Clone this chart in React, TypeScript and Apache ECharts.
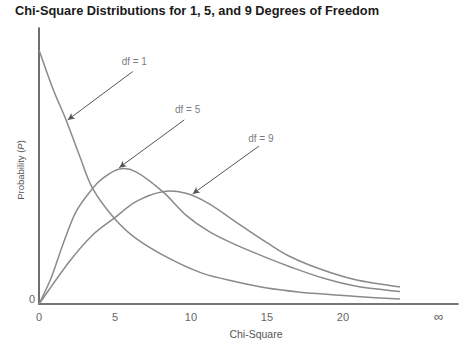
import React, { useEffect, useRef } from "react";
import * as echarts from "echarts";

// Chi-square value (x) vs probability density (y, relative units)
const df1Values: number[][] = [
  [0, 0.92], [0.9, 0.782], [1.78, 0.667], [2.65, 0.54], [3.53, 0.419], [4.95, 0.311],
  [6.38, 0.238], [8.57, 0.165], [10.77, 0.111], [12.96, 0.081], [15.0, 0.058],
  [17.17, 0.043], [18.68, 0.036], [20.9, 0.027], [23.75, 0.018],
];
const df5Values: number[][] = [
  [0, 0], [0.79, 0.093], [1.56, 0.214], [2.43, 0.334], [3.53, 0.419], [4.19, 0.455],
  [5.28, 0.489], [6.38, 0.479], [8.14, 0.407], [9.67, 0.322], [11.2, 0.262], [12.96, 0.214],
  [15.0, 0.167], [16.51, 0.135], [18.68, 0.094], [20.9, 0.064], [23.75, 0.045],
];
const df9Values: number[][] = [
  [0, 0], [1.99, 0.153], [3.53, 0.25], [4.95, 0.311], [6.38, 0.371], [8.14, 0.407],
  [9.67, 0.401], [11.2, 0.363], [12.96, 0.297], [15.0, 0.222], [16.51, 0.172], [18.68, 0.123],
  [20.9, 0.087], [23.75, 0.062],
];

const seriesNames = ["df = 1", "df = 5", "df = 9"];
const xTickValues = [0, 5, 10, 15, 20];
const infinityPosition = 26.3;
const yTickValues = [0];

// annotation arrows: [startX, startY, endX, endY]
const arrowCoords: number[][] = [
  [6.16, 0.842, 1.89, 0.667],
  [9.56, 0.667, 5.28, 0.494],
  [14.47, 0.572, 10.11, 0.399],
];
// annotation label anchor points [x, y]
const labelCoords: number[][] = [
  [6.27, 0.878],
  [9.78, 0.703],
  [14.6, 0.601],
];

const titleText = "Chi-Square Distributions for 1, 5, and 9 Degrees of Freedom";
const xAxisTitle = "Chi-Square";

// Catmull-Rom spline through pixel points, as SVG path data
function splinePath(pts: number[][]): string {
  if (pts.length < 2) return "";
  let d = `M${pts[0][0]},${pts[0][1]}`;
  for (let i = 0; i < pts.length - 1; i++) {
    const p0 = pts[Math.max(0, i - 1)];
    const p1 = pts[i];
    const p2 = pts[i + 1];
    const p3 = pts[Math.min(pts.length - 1, i + 2)];
    const c1x = p1[0] + (p2[0] - p0[0]) / 6;
    const c1y = p1[1] + (p2[1] - p0[1]) / 6;
    const c2x = p2[0] - (p3[0] - p1[0]) / 6;
    const c2y = p2[1] - (p3[1] - p1[1]) / 6;
    d += ` C${c1x},${c1y} ${c2x},${c2y} ${p2[0]},${p2[1]}`;
  }
  return d;
}

export default function App() {
  const ref = useRef<HTMLDivElement>(null);

  useEffect(() => {
    if (!ref.current) return;
    const chart = echarts.init(ref.current, null, { renderer: "svg" });
    const curveColor = "#8a8a8a";
    const axisColor = "#4a4a4a";
    const font = "'Liberation Sans', Arial, sans-serif";

    const curves = [df1Values, df5Values, df9Values].map((d, i) => ({
      name: seriesNames[i],
      type: "custom",
      data: d,
      silent: true,
      encode: { x: 0, y: 1 },
      renderItem: (params: any, api: any) => {
        if (params.dataIndex !== 0) return null;
        const pts = d.map((p) => api.coord(p));
        return {
          type: "path",
          shape: { pathData: splinePath(pts) },
          style: { stroke: curveColor, lineWidth: 1.5, fill: "none" },
        };
      },
    }));

    const option: any = {
      animation: false,
      backgroundColor: "#fff",
      title: {
        text: titleText,
        left: 15,
        top: 4,
        padding: 0,
        textStyle: { fontFamily: font, fontWeight: "bold", fontSize: 12.8, color: "#1a1a1a" },
      },
      grid: { left: 39, right: 5, top: 28, bottom: 38 },
      xAxis: {
        type: "value",
        min: 0,
        max: 27.57,
        axisLine: { show: true, lineStyle: { color: axisColor, width: 1.6 } },
        axisTick: { show: false },
        splitLine: { show: false },
        axisLabel: {
          customValues: [...xTickValues, infinityPosition],
          margin: 7,
          color: "#666",
          fontFamily: font,
          fontSize: 11,
          formatter: (v: number) => (v > 22 ? "{inf|∞}" : String(v)),
          rich: { inf: { fontSize: 13, color: "#555", fontFamily: font, lineHeight: 11 } },
        },
      },
      yAxis: {
        type: "value",
        min: 0,
        max: 1,
        axisLine: { show: true, lineStyle: { color: axisColor, width: 1.6 } },
        axisTick: { show: false },
        splitLine: { show: false },
        axisLabel: {
          customValues: yTickValues,
          margin: 4,
          color: "#666",
          fontFamily: font,
          fontSize: 11,
          verticalAlign: "bottom",
          lineHeight: 10,
        },
      },
      graphic: [
        {
          type: "text",
          x: 256,
          y: 334,
          style: {
            text: xAxisTitle,
            fill: "#555",
            font: `10.5px ${font}`,
            align: "center",
            verticalAlign: "middle",
          },
        },
        {
          type: "text",
          x: 20,
          y: 170,
          rotation: Math.PI / 2,
          style: {
            text: "Probability ({i|P})",
            fill: "#555",
            font: `9.5px ${font}`,
            align: "center",
            verticalAlign: "middle",
            rich: { i: { fontStyle: "italic", fontSize: 9.5, fill: "#555", fontFamily: font } },
          },
        },
      ],
      series: [
        ...curves,
        {
          name: "arrows",
          type: "line",
          data: [],
          silent: true,
          markLine: {
            silent: true,
            symbol: ["none", "arrow"],
            symbolSize: [5, 7],
            label: { show: false },
            lineStyle: { color: "#555", width: 1, type: "solid" },
            data: arrowCoords.map((a) => [{ coord: [a[0], a[1]] }, { coord: [a[2], a[3]] }]),
          },
        },
        {
          name: "labels",
          type: "scatter",
          symbolSize: 0,
          silent: true,
          data: labelCoords.map((c, i) => ({ value: c, name: seriesNames[i] })),
          label: {
            show: true,
            position: "inside",
            formatter: (p: any) => p.name,
            color: "#555",
            fontFamily: font,
            fontSize: 10,
          },
        },
      ],
    };

    chart.setOption(option);
    return () => chart.dispose();
  }, []);

  return (
    <div
      ref={ref}
      style={{ position: "fixed", left: 0, top: 0, width: 463, height: 342, background: "#fff" }}
    />
  );
}
